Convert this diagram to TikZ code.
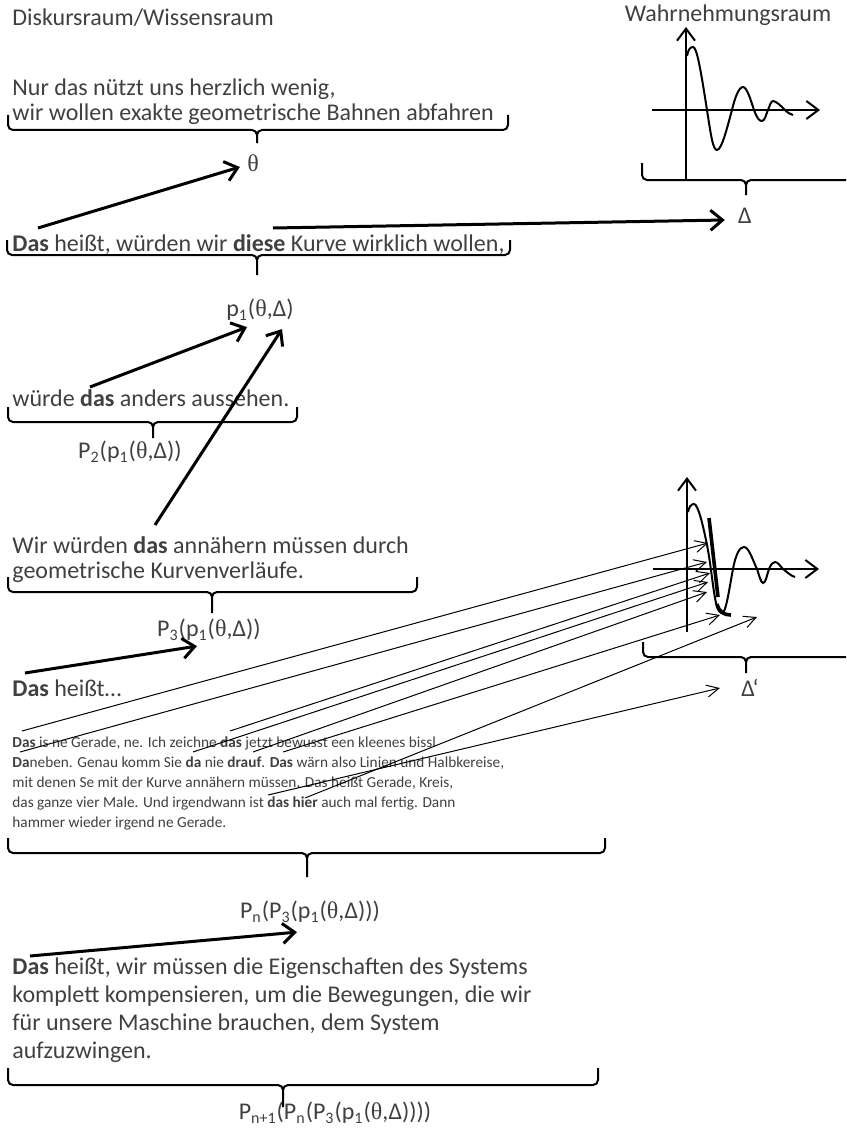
\documentclass[tikz,border=0pt]{standalone}
\usepackage{fontspec}
\setmainfont{Carlito}
\newfontfamily\thetafont{Liberation Serif}
\usetikzlibrary{arrows.meta}
\definecolor{KvText}{RGB}{64,64,64}
\newcommand{\thet}{{\thetafont θ}}
% curly bracket under a text: left x, right x, tip x, arm top y, line y, tip y
\newcommand{\klammer}[6]{%
  \draw[kv/brace] (#1,#4) -- (#1,#5-5) to[out=-90,in=180] (#1+5,#5) -- (#3-5,#5)
    to[out=0,in=90] (#3,#5+5) -- (#3,#6)
    (#3,#5+5) to[out=90,in=180] (#3+5,#5) -- (#2-5,#5)
    to[out=0,in=-90] (#2,#5-5) -- (#2,#4);
}
\tikzset{
  kv/text/.style={
    anchor=west,
    inner sep=0pt,
    text=KvText,
    align=left,
    font=\fontsize{12}{12.5}\selectfont
  },
  kv/small/.style={
    anchor=west,
    inner sep=0pt,
    text=KvText,
    align=left,
    font=\fontsize{7.65}{10}\selectfont
  },
  kv/formula/.style={inner sep=0pt, text=KvText, font=\fontsize{12}{14}\selectfont},
  kv/brace/.style={draw=black, line width=1pt},
  kv/arrow/.style={-{Straight Barb[length=6pt,width=10pt]}, line width=1.5pt, draw=black},
  kv/thinarrow/.style={-{Straight Barb[length=6pt,width=6pt]}, line width=0.5pt, draw=black},
  kv/axis/.style={-{Straight Barb[length=6pt,width=9pt]}, line width=1pt, draw=black},
  kv/curve/.style={line width=1pt, draw=black},
  kv/approx/.style={line width=1.8pt, draw=black}
}
\begin{document}
\begin{tikzpicture}[x=0.5pt,y=-0.5pt]
  \useasboundingbox (0,0) rectangle (846,1129);
  \clip (0,0) rectangle (846,1129);
  % headings
  \node[kv/text] (diskurs) at (12,18) {Diskursraum/Wissensraum};
  \node[kv/text,anchor=center] (wahrnehmung) at (728,15) {Wahrnehmungsraum};

  % left column
  \node[kv/text] (nur) at (12,102) {Nur das nützt uns herzlich wenig,\\wir wollen exakte geometrische Bahnen abfahren};
  \klammer{8}{508}{257}{115}{130}{143}
  \node[kv/formula] (theta) at (253,163) {\thet};
  \node[kv/text] (kurve) at (12,245) {\textbf{Das} heißt, würden wir \textbf{diese} Kurve wirklich wollen,};
  \klammer{7}{510}{257}{240}{255}{275}
  \node[kv/formula] (p1) at (260,310) {p\textsubscript{1}(\thet,Δ)};
  \node[kv/text] (anders) at (12,398) {würde \textbf{das} anders aussehen.};
  \klammer{8}{297}{153}{407}{422}{438}
  \node[kv/formula] (P2) at (130,452) {P\textsubscript{2}(p\textsubscript{1}(\thet,Δ))};
  \node[kv/text] (naehern) at (12,560) {Wir würden \textbf{das} annähern müssen durch\\geometrische Kurvenverläufe.};
  \klammer{8}{417}{212}{577}{592}{613}
  \node[kv/formula] (P3) at (209,630) {P\textsubscript{3}(p\textsubscript{1}(\thet,Δ))};
  \node[kv/text] (heisst) at (12,688) {\textbf{Das} heißt…};
  \node[kv/small] (gerade) at (12,783) {\textbf{Das} is ne Gerade, ne. Ich zeichne \textbf{das} jetzt bewusst een kleenes bissl\\
    \textbf{Da}neben. Genau komm Sie \textbf{da} nie \textbf{drauf}. \textbf{Das} wärn also Linien und Halbkereise,\\
    mit denen Se mit der Kurve annähern müssen. Das heißt Gerade, Kreis,\\
    das ganze vier Male. Und irgendwann ist \textbf{das hier} auch mal fertig. Dann\\
    hammer wieder irgend ne Gerade.};
  \klammer{8}{605}{307}{838}{853}{877}
  \node[kv/formula] (Pn) at (310,912) {P\textsubscript{n}(P\textsubscript{3}(p\textsubscript{1}(\thet,Δ)))};
  \node[kv/text,font=\fontsize{12}{14}\selectfont] (system) at (12,1010) {\textbf{Das} heißt, wir müssen die Eigenschaften des Systems\\
    komplett kompensieren, um die Bewegungen, die wir\\
    für unsere Maschine brauchen, dem System\\
    aufzuzwingen.};
  \klammer{8}{598}{283}{1068}{1085}{1107}
  \node[kv/formula] (Pn1) at (335,1113) {P\textsubscript{n+1}(P\textsubscript{n}(P\textsubscript{3}(p\textsubscript{1}(\thet,Δ))))};

  % Wahrnehmungsraum: system response
  \draw[kv/axis] (686,181) -- (686,27);
  \draw[kv/axis] (652,110) -- (820,110);
  \draw[kv/curve] (687,56) .. controls (688,50) and (690,47) .. (693,47)
    .. controls (697,47) and (701,72) .. (707,110)
    .. controls (711,136) and (713,150) .. (717,150)
    .. controls (722,150) and (728,124) .. (732,110)
    .. controls (735,97) and (739,87) .. (743,87)
    .. controls (747,87) and (751,101) .. (754,110)
    .. controls (757,118) and (759,121) .. (762,121)
    .. controls (765,121) and (766,114) .. (768,110)
    .. controls (770,105) and (771,101) .. (773,101)
    .. controls (776,101) and (781,106) .. (785,110)
    .. controls (788,113) and (790,114) .. (793,115);
  \klammer{642}{900}{746}{163}{180}{195}
  \node[kv/formula] (delta) at (745,216) {Δ};

  % approximated response
  \draw[kv/axis] (687,632) -- (687,477);
  \draw[kv/axis] (653,569) -- (819,569);
  \draw[kv/curve] (688,512) .. controls (689,507) and (691,504) .. (694,504)
    .. controls (698,504) and (703,525) .. (707,545)
    .. controls (711,565) and (713,590) .. (716,603)
    .. controls (718,611) and (720,613) .. (722,613)
    .. controls (726,613) and (729,590) .. (733,569)
    .. controls (736,553) and (740,547) .. (744,547)
    .. controls (749,547) and (753,561) .. (757,569)
    .. controls (759,575) and (761,583) .. (763,583)
    .. controls (766,583) and (767,574) .. (769,569)
    .. controls (771,564) and (773,562) .. (775,562)
    .. controls (778,562) and (780,566) .. (783,569)
    .. controls (787,572) and (791,576) .. (795,577);
  \draw[kv/approx] (709,518) -- (718,597);
  \draw[kv/approx] (717,604) .. controls (719,612) and (724,615) .. (731,615);
  \klammer{643}{900}{746}{642}{657}{673}
  \node[kv/formula] (deltaS) at (750,688) {Δ‘};

  % thick arrows
  \coordinate (dasA) at (38,228);
  \coordinate (dieseK) at (273,228);
  \coordinate (dasB) at (90,387);
  \coordinate (dasC) at (155,525);
  \coordinate (dasD) at (25,673);
  \coordinate (dasE) at (30,956);
  \draw[kv/arrow] (dasA) -- ([shift={(-7,4)}]theta.west);
  \draw[kv/arrow] (dieseK) -- ([shift={(-13,4)}]delta.west);
  \draw[kv/arrow] (dasB) -- ([shift={(-13,6)}]p1.south);
  \draw[kv/arrow] (dasC) -- ([shift={(22,8)}]p1.south);
  \draw[kv/arrow] (dasD) -- ([shift={(-12,5)}]P3.south);
  \draw[kv/arrow] (dasE) -- ([shift={(-13,9)}]Pn.south);

  % thin arrows from the words to the curve
  \coordinate (w1) at (22,731);
  \coordinate (w2) at (20,752);
  \coordinate (w3) at (230,731);
  \coordinate (w4) at (193,752);
  \coordinate (w5) at (253,752);
  \coordinate (w6) at (283,752);
  \coordinate (w7) at (268,795);
  \coordinate (w8) at (305,798);
  \coordinate (k1) at (708,543);
  \coordinate (k2) at (707,562);
  \coordinate (k3) at (710,573);
  \coordinate (k4) at (708,582);
  \coordinate (k5) at (707,592);
  \coordinate (k6) at (720,615);
  \coordinate (k7) at (757,617);
  \foreach \von/\nach in {w1/k1,w2/k2,w3/k3,w4/k4,w5/k5,w6/k6,w8/k7}
    \draw[kv/thinarrow] (\von) -- (\nach);
  \draw[kv/thinarrow] (w7) -- ([shift={(-21,0)}]deltaS.west);
\end{tikzpicture}
\end{document}
